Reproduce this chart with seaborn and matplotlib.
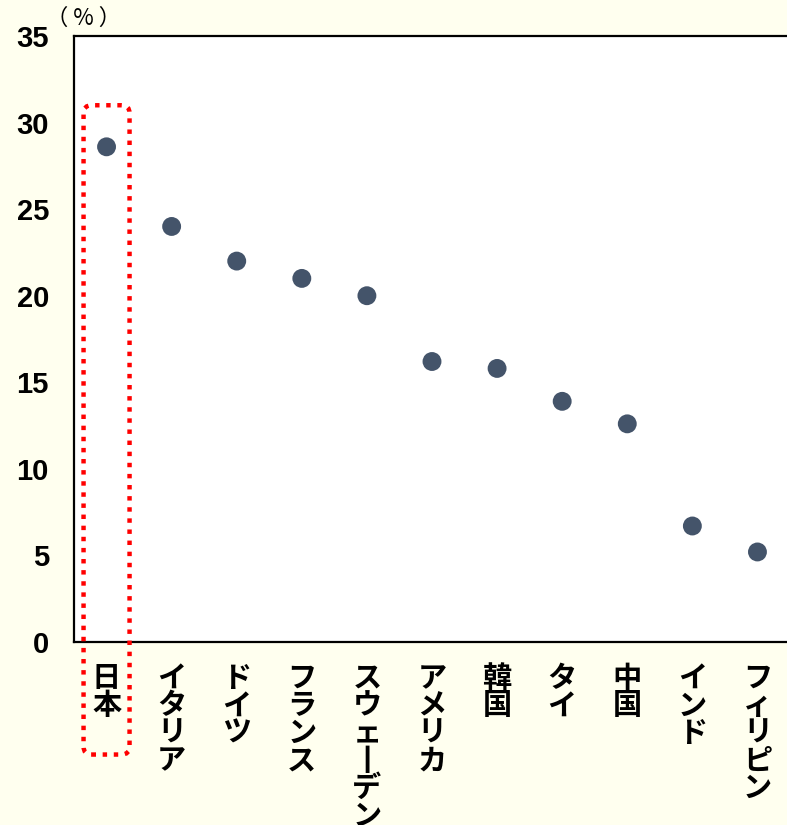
import matplotlib
matplotlib.use("Agg")
import matplotlib.pyplot as plt
from matplotlib.patches import FancyBboxPatch
import seaborn as sns
import pandas as pd

# Data: share (%) by country
countries = ["日本", "イタリア", "ドイツ", "フランス", "スウェーデン", "アメリカ",
             "韓国", "タイ", "中国", "インド", "フィリピン"]
values = [28.6, 24.0, 22.0, 21.0, 20.0, 16.2, 15.8, 13.9, 12.6, 6.7, 5.2]
y_ticks = [0, 5, 10, 15, 20, 25, 30, 35]
unit_label = "（ % ）"
highlight = "日本"

BG = "#FFFFEF"
DOT = "#44546A"

sns.set_theme(style="white")
plt.rcParams["font.family"] = ["Noto Sans CJK JP", "DejaVu Sans"]
plt.rcParams["text.color"] = "black"
plt.rcParams["xtick.color"] = "black"
plt.rcParams["ytick.color"] = "black"

df = pd.DataFrame({"country": countries, "value": values})

fig = plt.figure(figsize=(7.87, 8.25), dpi=100, facecolor=BG)
ax = fig.add_axes([74 / 787, 183 / 825, 716 / 787, 606 / 825])
ax.set_facecolor("white")

sns.scatterplot(data=df, x="country", y="value", ax=ax, s=185,
                color=DOT, edgecolor="none", zorder=3, legend=False)

ax.set_xlim(-0.5, len(countries) - 0.5)
ax.set_ylim(0, 35)
ax.set_xlabel("")
ax.set_ylabel("")

for side in ["left", "bottom", "top"]:
    ax.spines[side].set_visible(True)
    ax.spines[side].set_color("black")
    ax.spines[side].set_linewidth(1.6)
ax.spines["right"].set_visible(False)

ax.set_yticks(y_ticks)
ax.set_yticklabels([str(t) for t in y_ticks],
                   fontfamily=["Liberation Sans", "DejaVu Sans"],
                   fontweight="bold", fontsize=21)
ax.tick_params(axis="y", length=0, pad=18)

# Vertical (tategaki) category labels: one character per line,
# with the long-vowel mark turned upright
def vertical(s):
    return "\n".join("丨" if ch == "ー" else ch for ch in s)

ax.set_xticks(range(len(countries)))
ax.set_xticklabels([vertical(c) for c in countries], fontsize=21,
                   fontweight="bold", linespacing=0.9, va="top")
ax.tick_params(axis="x", length=0, pad=15)

fig.text(83 / 787, 1 - 18 / 825, unit_label, ha="center", va="center",
         fontsize=16)

# Dotted rounded frame around the highlighted category
fig.canvas.draw()
p0 = ax.transData.transform((0, 0))
p1 = ax.transData.transform((1, 1))
px_per_x = p1[0] - p0[0]
px_per_y = p1[1] - p0[1]
aspect = px_per_x / px_per_y

hi = countries.index(highlight)
half_w = 23 / px_per_x
y_top = 31.0
y_bot = -6.5
box = FancyBboxPatch((hi - half_w, y_bot), 2 * half_w, y_top - y_bot,
                     boxstyle="round,pad=0,rounding_size=%f" % (8 / px_per_x),
                     mutation_aspect=aspect,
                     fill=False, edgecolor="#FF0000", linewidth=3.2,
                     linestyle=(0, (1, 1.5)), clip_on=False, zorder=4)
ax.add_patch(box)

fig.savefig("out.png", dpi=100, facecolor=BG)
